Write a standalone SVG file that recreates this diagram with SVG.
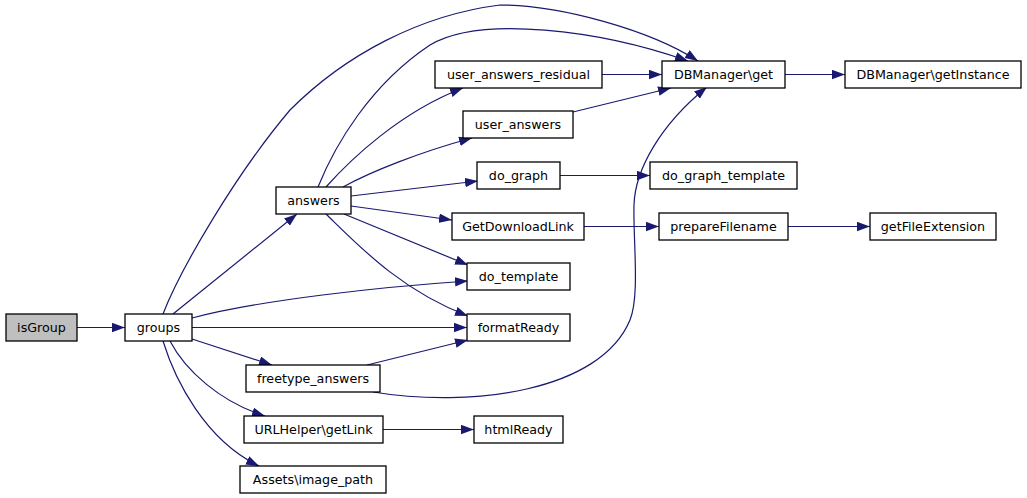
<svg xmlns="http://www.w3.org/2000/svg" width="1027" height="498" viewBox="0 0 1027 498">
<defs>
<marker id="ah" markerUnits="userSpaceOnUse" markerWidth="14" markerHeight="10" refX="13" refY="4.7" orient="auto">
<path d="M0,0 L13,4.7 L0,9.4 z" fill="#191970"/>
</marker>
<style>
.n rect{fill:#fff;stroke:#000;stroke-width:1.3}
.n.root rect{fill:#bfbfbf}
.n text{font-family:"DejaVu Sans","Liberation Sans",sans-serif;font-size:12.7px;fill:#000;text-anchor:middle}
#edges path{fill:none;stroke:#191970;stroke-width:1.2;marker-end:url(#ah)}
</style>
</defs>
<rect width="1027" height="498" fill="#fff"/>
<g id="edges">
<path d="M77,327.5 L125,327.5"/>
<path d="M173,314 L297,214"/>
<path d="M163,314 C180,270 235,175 290,110 C345,55 420,15 500,5 C560,5 650,30 698,61"/>
<path d="M192,318 C260,300 380,287 468,281"/>
<path d="M192,327.5 L467,327.5"/>
<path d="M192,339 L272,365"/>
<path d="M170,341 C185,370 220,402 265,416"/>
<path d="M163,341 C175,380 205,440 259,466"/>
<path d="M318,187 C335,145 370,85 430,45 C480,15 600,30 688,61"/>
<path d="M326,187 C350,160 400,112 463,88"/>
<path d="M343,187 C370,172 420,152 472,138"/>
<path d="M351,196 L478,181"/>
<path d="M351,206 L452,220"/>
<path d="M344,214 L468,265"/>
<path d="M326,214 C358,245 400,290 468,316"/>
<path d="M602,74.5 L662,74.5"/>
<path d="M573,112 L671,88"/>
<path d="M560,175.5 L650,175.5"/>
<path d="M584,226.5 L659,226.5"/>
<path d="M788,226.5 L870,226.5"/>
<path d="M785,74.5 L845,74.5"/>
<path d="M367,365 L468,340"/>
<path d="M373,392 C470,408 600,392 630,320 C640,295 633,240 634,205 C635,170 660,125 707,87"/>
<path d="M383,429.5 L474,429.5"/>
</g>
<g id="isGroup" class="n root"><rect x="6" y="314" width="71" height="27"/><text x="41.5" y="332">isGroup</text></g>
<g id="groups" class="n"><rect x="125" y="314" width="67" height="27"/><text x="158.5" y="332">groups</text></g>
<g id="answers" class="n"><rect x="276" y="187" width="75" height="27"/><text x="313.5" y="205">answers</text></g>
<g id="freetype_answers" class="n"><rect x="246" y="365" width="134" height="27"/><text x="313" y="383">freetype_answers</text></g>
<g id="URLHelper_getLink" class="n"><rect x="244" y="416" width="139" height="27"/><text x="313.5" y="434">URLHelper\getLink</text></g>
<g id="Assets_image_path" class="n"><rect x="240" y="466" width="146" height="27"/><text x="313" y="484">Assets\image_path</text></g>
<g id="user_answers_residual" class="n"><rect x="435" y="61" width="167" height="27"/><text x="518.5" y="79">user_answers_residual</text></g>
<g id="DBManager_get" class="n"><rect x="662" y="61" width="123" height="27"/><text x="723.5" y="79">DBManager\get</text></g>
<g id="user_answers" class="n"><rect x="463" y="111" width="110" height="27"/><text x="518" y="129">user_answers</text></g>
<g id="do_graph" class="n"><rect x="477" y="162" width="83" height="27"/><text x="518.5" y="180">do_graph</text></g>
<g id="GetDownloadLink" class="n"><rect x="452" y="213" width="132" height="27"/><text x="518" y="231">GetDownloadLink</text></g>
<g id="do_template" class="n"><rect x="467" y="263" width="103" height="27"/><text x="518.5" y="281">do_template</text></g>
<g id="formatReady" class="n"><rect x="467" y="314" width="103" height="27"/><text x="518.5" y="332">formatReady</text></g>
<g id="htmlReady" class="n"><rect x="474" y="416" width="89" height="27"/><text x="518.5" y="434">htmlReady</text></g>
<g id="do_graph_template" class="n"><rect x="650" y="162" width="147" height="27"/><text x="723.5" y="180">do_graph_template</text></g>
<g id="prepareFilename" class="n"><rect x="659" y="213" width="129" height="27"/><text x="723.5" y="231">prepareFilename</text></g>
<g id="getFileExtension" class="n"><rect x="870" y="213" width="126" height="27"/><text x="933" y="231">getFileExtension</text></g>
<g id="DBManager_getInstance" class="n"><rect x="845" y="61" width="176" height="27"/><text x="933" y="79">DBManager\getInstance</text></g>
</svg>
